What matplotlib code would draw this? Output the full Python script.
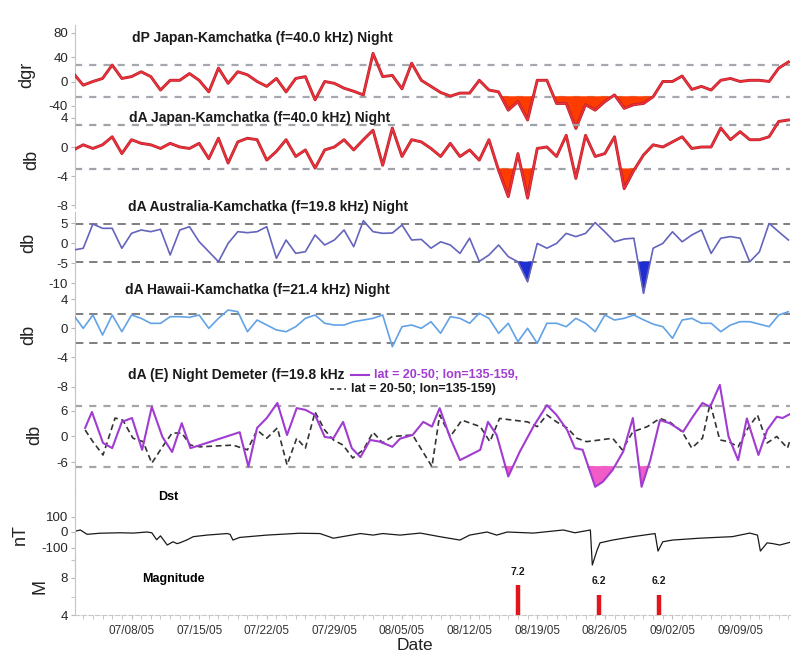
"""VLF phase/amplitude anomalies, Demeter, Dst and earthquakes, Jul-Sep 2005."""
import datetime as dt

import matplotlib
matplotlib.use("Agg")
import matplotlib.dates as mdates
import matplotlib.patheffects as pe
import matplotlib.pyplot as plt
import numpy as np
from matplotlib.lines import Line2D
from matplotlib.ticker import FixedLocator, MultipleLocator

plt.rcParams["font.family"] = ["Liberation Sans", "DejaVu Sans"]
plt.rcParams["axes.unicode_minus"] = False

START = dt.datetime(2005, 7, 1)
DAYS = np.arange(1, 76)  # daily night values, days after 07/01/05

DP_JAPAN = [13, -6, 0, 5, 27, 5, 8, 16, 8, -14, 2, 2, 13, 2, -17, 22, -3, 16, 11, 0,
            -8, 5, -17, 5, 8, -30, 0, -3, -11, -16, -22, 46, 8, 10, -12, 30, 2, -8, -18, -24,
            -19, -19, 2, -14, -17, -47, -33, -63, 2, 2, -36, -36, -77, -38, -47, -33, -22, -44, -38, -36,
            -25, 0, 0, 9, -13, -8, -14, 2, 5, 0, 2, 2, 0, 22, 32]
DA_JAPAN = [-0.4, 0.3, -0.2, 0.3, 1.4, -0.9, 1.0, 0.5, 0.3, -0.2, 0.5, 0.0, -0.2, 0.5, -1.6,
            1.2, -2.2, 0.7, 1.2, 1.0, -1.8, -0.6, 1.0, -1.3, -0.4, -2.9, -0.4, 0.0, 1.0, -0.4,
            1.0, 2.3, -2.5, 2.6, -1.3, 1.0, 0.7, -0.2, -1.3, 0.5, -1.3, -0.4, -1.8, 1.0, -3.2,
            -6.8, -0.9, -7.0, -0.2, 0.0, -1.3, 1.6, -4.3, 1.6, -1.3, -0.9, 1.4, -5.7, -3.2, -1.1,
            0.3, 0.0, 0.7, 1.4, -0.2, 0.0, 0.0, 2.6, 1.0, 2.1, 1.0, 1.0, 1.4, 3.5, 3.7]
DA_AUSTRALIA = [-1.75, -1.33, 4.75, 3.67, 3.67, -1.33, 2.42, 3.25, 2.83, 3.42, -3.0, 3.25, 4.08,
                0.33, -2.17, -4.67, -0.08, 2.83, 2.58, 2.83, 4.08, -3.83, 0.75, -2.58, -2.17, 2.0,
                -0.5, 0.75, 3.25, -0.92, 5.58, 2.83, 2.42, 2.5, 4.5, 0.75, 0.9, -1.3, 0.3, -0.5,
                -2.6, 1.2, -4.6, -3.0, -0.5, -3.4, -4.7, -9.7, -0.1, -1.3, -0.1, 2.4, 1.6, 2.4,
                5.1, 2.8, 0.3, 1.0, 1.2, -12.6, -1.3, -0.1, 2.8, 0.3, 2.0, 3.25, -2.6, 1.2, 1.6,
                1.2, -4.7, -2.2, 4.9, 2.8, 0.75]
DA_HAWAII = [1.86, 0.02, 1.86, -0.9, 1.86, -0.44, 1.86, 1.4, 0.71, 0.71, 1.63, 1.63, 1.54, 1.86,
             0.02, 1.4, 2.55, 2.32, -0.44, 1.17, 0.48, -0.2, -0.44, 0.25, 1.4, 1.86, 0.71, 0.48,
             0.48, 0.94, 1.17, 1.4, 1.86, -2.51, 0.25, 0.48, 0.03, 0.94, -0.66, 1.63, 1.4, 0.72,
             2.1, 1.4, -0.66, 0.72, -1.82, 0.03, -2.04, 0.72, 0.72, 0.25, 1.4, 0.72, -0.44, 1.86,
             1.17, 1.4, 1.86, 1.2, 0.6, 0.25, -1.35, 1.17, 1.4, 0.72, 0.72, -0.44, 0.48, 0.94,
             0.94, 0.6, 0.25, 1.86, 2.32]

# Demeter passes (irregular sampling)
DEM_DAYS = [2.2, 2.9, 4.05, 5.0, 6.0, 7.05, 8.1, 9.1, 10.2, 11.2, 12.2, 13.1, 14.1, 18.2, 19.1,
            20.0, 21.0, 22.1, 23.1, 24.1, 25.0, 26.0, 27.0, 27.9, 28.9, 29.8, 30.7, 31.7, 32.7,
            34.0, 34.8, 36.1, 37.2, 38.1, 38.9, 40.0, 41.0, 43.1, 43.9, 44.8, 46.0, 47.2, 48.6,
            50.0, 51.0, 52.1, 52.9, 53.7, 55.0, 55.8, 56.8, 57.9, 58.9, 59.8, 60.7, 61.7, 62.7,
            64.1, 65.1, 66.1, 66.9, 67.9, 68.8, 69.8, 70.7, 71.9, 72.8, 73.8, 74.4, 75.4]
DEM_ZONE1 = [2.0, 5.7, -1.5, -2.7, 3.4, 4.3, -3.1, 6.9, -0.1, -3.6, 3.1, -2.7, -2.0, 1.0, -7.0,
             2.0, 4.3, 7.8, 0.35, 6.6, 6.2, 5.0, -0.1, -0.4, 3.4, -2.7, -4.8, -0.8, -1.2,
             -2.4, -0.5, 0.35, 3.4, 2.3, 6.6, -0.4, -5.5, -3.1, 3.4, 0.35, -9.3, -3.5, 2.3,
             7.3, 5.0, 1.5, -2.7, -3.1, -11.7, -10.5, -7.8, -3.5, 4.3, -11.7, -5.5, 3.8, 3.1,
             1.1, 4.6, 7.8, 6.9, 12.0, 0.0, -5.5, 4.2, -4.3, 1.5, 4.6, 4.3, 5.5]
DEM2_DAYS = [2.2, 3.0, 4.05, 5.3, 6.1, 7.15, 8.2, 9.1, 10.2, 11.2, 12.2, 13.1, 14.1, 17.5, 19.0,
             20.0, 21.0, 22.1, 23.1, 24.1, 25.0, 26.0, 27.0, 27.9, 28.9, 29.9, 31.0, 32.0, 33.0,
             34.0, 36.1, 38.1, 38.9, 40.0, 41.2, 43.1, 44.1, 45.1, 46.5, 48.0, 49.0, 50.0, 51.0,
             52.1, 53.1, 54.1, 55.5, 56.8, 57.8, 58.9, 60.4, 61.7, 62.7, 64.0, 65.0, 66.1, 66.9,
             67.9, 68.8, 69.8, 70.8, 71.8, 72.8, 73.8, 74.9, 75.4]
DEM_ZONE2 = [1.5, -1.2, -4.3, 4.3, 3.8, -0.4, -1.2, -6.2, -2.4, 0.8, 0.8, -2.0, -2.4, -2.0, -3.1,
             1.5, -0.4, 2.0, -6.6, -0.4, -2.7, 5.7, 1.5, -0.8, -2.0, -5.0, -3.1, 1.0, -1.5,
             0.0, 0.35, -7.0, 5.0, 0.0, 3.8, 2.3, -1.2, 4.2, 3.8, 3.4, 2.3, 5.0, 3.4,
             2.0, -0.4, -1.2, -0.8, -0.4, -3.1, 1.1, 2.3, 4.2, 3.4, 1.1, -2.7, -0.4, 7.7,
             -0.8, -1.2, -2.4, 1.9, 5.0, -1.5, 0.0, -2.7, 0.7]

DST_DAYS = [1.15, 1.7, 2.4, 3.7, 5.8, 7.2, 8.6, 9.1, 9.6, 10.0, 10.7, 11.3, 11.7, 12.0, 12.7, 13.4,
            14.8, 16.9, 17.2, 17.5, 18.2, 21.0, 24.4, 26.5, 27.9, 29.3, 30.7, 32.0, 33.0, 34.8,
            36.9, 38.9, 41.0, 42.0, 43.8, 44.8, 45.9, 48.6, 51.7, 52.9, 54.5, 54.7, 55.2, 55.5,
            56.8, 58.9, 61.2, 61.5, 62.0, 63.0, 65.8, 69.2, 71.0, 71.8, 72.1, 72.8, 73.4, 74.1, 75.4]
DST = [5, 13, -15, -8, -5, -7, 0, -5, -50, -25, -84, -63, -75, -70, -52, -30,
       -20, -10, -15, -52, -35, -20, -8, -10, -40, -25, -10, -20, -10, -20,
       -7, -30, -52, -20, 0, -20, 0, -7, 13, -5, 13, -213, -116, -70,
       -52, -30, -10, -123, -63, -52, -40, -30, -7, -20, -123, -70, -75, -84, -63]

EQ_DAYS = [47.0, 55.4, 61.6]
EQ_MAG = [7.2, 6.2, 6.2]

# dashed reference levels and highlighted anomaly windows
LEVELS = {"dp": (27, -25), "dajp": (3, -3), "daau": (4.75, -4.75), "dahw": (2, -2), "dem": (7, -7)}
WINDOWS = {"dp": [(44, 62)], "dajp": [(44, 49.5), (57, 59.5)],
           "daau": [(46, 49.5), (59, 61)], "dem": [(45, 47), (54, 57.6), (59, 61)]}

W, H = 792, 659
L, R = 75, 790
T0, PXDAY = 63.9, 9.66          # pixel of day 0 and pixels per day
BASE = mdates.date2num(START)


def day_num(days):
    return BASE + np.asarray(days, dtype=float)


fig = plt.figure(figsize=(W / 100, H / 100), dpi=100)
fig.patch.set_facecolor("white")


def panel(top, bot, ref_val, ref_px, ppu, ticks):
    ax = fig.add_axes([L / W, 1 - bot / H, (R - L) / W, (bot - top) / H])
    ax.set_ylim(ref_val - (bot - ref_px) / ppu, ref_val + (ref_px - top) / ppu)
    ax.set_xlim(BASE + (L - T0) / PXDAY, BASE + (R - T0) / PXDAY)
    ax.patch.set_visible(False)
    for s in ("top", "right", "bottom"):
        ax.spines[s].set_visible(False)
    ax.spines["left"].set_color("#c4c4c4")
    ax.set_yticks(ticks)
    ax.tick_params(axis="y", length=3, color="#b8b8b8", labelsize=9.5,
                   labelcolor="#262626", pad=2)
    ax.tick_params(axis="x", bottom=False, labelbottom=False)
    return ax


def refs(ax, key, color, lw, dashes):
    for lev in LEVELS[key]:
        ax.axhline(lev, color=color, lw=lw, dashes=dashes, zorder=1)


def shade(ax, days, vals, key, color):
    x = np.asarray(days, dtype=float)
    y = np.asarray(vals, dtype=float)
    lo = LEVELS[key][1]
    inwin = np.zeros_like(x, dtype=bool)
    for a, b in WINDOWS[key]:
        inwin |= (x >= a) & (x <= b)
    ax.fill_between(day_num(x), y, lo, where=(y < lo) & inwin, interpolate=True,
                    color=color, lw=0.6, zorder=2)


red_fx = [pe.Stroke(linewidth=2.1, foreground="#b0222a"), pe.Normal()]

# dP Japan
ax1 = panel(25, 132, 0, 81.5, 0.61, [-40, 0, 40, 80])
refs(ax1, "dp", "#a4a9b0", 1.6, (3.2, 3.2))
shade(ax1, DAYS, DP_JAPAN, "dp", "#ff3c00")
ax1.plot(day_num(DAYS), DP_JAPAN, color="#f0303a", lw=1.2, path_effects=red_fx, zorder=3)

# dA Japan
ax2 = panel(110, 208, 0, 147, 7.3, [-8, -4, 0, 4])
refs(ax2, "dajp", "#9ea3a9", 1.6, (3.2, 3.2))
shade(ax2, DAYS, DA_JAPAN, "dajp", "#ff3c00")
ax2.plot(day_num(DAYS), DA_JAPAN, color="#f0303a", lw=1.2, path_effects=red_fx, zorder=3)

# dA Australia
ax3 = panel(212, 298, 0, 243, 4.0, [-10, -5, 0, 5])
refs(ax3, "daau", "#6a6a6a", 1.2, (5, 3.5))
shade(ax3, DAYS, DA_AUSTRALIA, "daau", "#1f2ed0")
ax3.plot(day_num(DAYS), DA_AUSTRALIA, color="#6464bd", lw=1.2, zorder=3)

# dA Hawaii
ax4 = panel(296, 390, 0, 328.5, 7.25, [-8, -4, 0, 4])
refs(ax4, "dahw", "#6a6a6a", 1.2, (5, 3.5))
ax4.plot(day_num(DAYS), DA_HAWAII, color="#62a2e6", lw=1.2, zorder=3)

# Demeter
ax5 = panel(382, 492, 0, 436.5, 4.3, [-6, 0, 6])
refs(ax5, "dem", "#a5a5a5", 1.6, (3.2, 3.2))
shade(ax5, DEM_DAYS, DEM_ZONE1, "dem", "#f25cc6")
ax5.plot(day_num(DEM2_DAYS), DEM_ZONE2, color="#333333", lw=1.2, dashes=(3.5, 2.2), zorder=3)
ax5.plot(day_num(DEM_DAYS), DEM_ZONE1, color="#a03cd0", lw=1.5, zorder=4)

# Dst
ax6 = panel(490, 572, 0, 532, 0.155, [-100, 0, 100])
ax6.plot(day_num(DST_DAYS), DST, color="#1a1a1a", lw=0.9)

# Magnitude
ax7 = panel(556, 615, 4, 615, 9.25, [4, 8])
ax7.yaxis.set_minor_locator(FixedLocator([6, 10]))
ax7.tick_params(axis="y", which="minor", length=3, color="#b8b8b8")
ax7.vlines(day_num(EQ_DAYS), 4, EQ_MAG, colors="#e2141c", lw=3.2, zorder=3)
for d, m in zip(EQ_DAYS, EQ_MAG):
    ax7.text(day_num(d), m + 1.5, f"{m:.1f}", ha="center", va="center",
             fontsize=7.5, fontweight="bold", color="#1a1a1a")
ax7.spines["bottom"].set_visible(True)
ax7.spines["bottom"].set_color("#c8c8c8")
ax7.spines["bottom"].set_linestyle((0, (4, 2)))
ax7.set_xticks(day_num(np.arange(7, 71, 7)))
ax7.xaxis.set_major_formatter(mdates.DateFormatter("%m/%d/%y"))
ax7.xaxis.set_minor_locator(MultipleLocator(1))
ax7.tick_params(axis="x", which="both", bottom=True, labelbottom=True, length=3,
                color="#bdbdbd", labelsize=8.5, labelcolor="#333333", pad=4)


def ftext(x, y, s, **kw):
    fig.text(x / W, 1 - y / H, s, **kw)


title_kw = dict(ha="left", va="center", fontsize=10, fontweight="bold", color="#1a1a1a")
leg_kw = {**title_kw, "fontsize": 9}
ftext(132, 38, "dP Japan-Kamchatka (f=40.0 kHz) Night", **title_kw)
ftext(129, 118, "dA Japan-Kamchatka (f=40.0 kHz) Night", **title_kw)
ftext(128, 207, "dA Australia-Kamchatka (f=19.8 kHz) Night", **title_kw)
ftext(125, 290, "dA Hawaii-Kamchatka (f=21.4 kHz) Night", **title_kw)
ftext(128, 375, "dA (E) Night Demeter (f=19.8 kHz", **title_kw)
ftext(374, 375, "lat = 20-50; lon=135-159,", **{**leg_kw, "color": "#a03cd0"})
ftext(351, 389, "lat = 20-50; lon=135-159)", **leg_kw)
fig.add_artist(Line2D([351 / W, 369 / W], [1 - 375 / H] * 2, color="#a03cd0", lw=1.5))
fig.add_artist(Line2D([330 / W, 346 / W], [1 - 389 / H] * 2, color="#333333", lw=1.2,
                      dashes=(2.5, 1.8)))
ftext(168, 497, "Dst", ha="center", va="center", fontsize=9, fontweight="bold")
ftext(142, 579, "Magnitude", ha="left", va="center", fontsize=9, fontweight="bold")

lab_kw = dict(rotation=90, ha="center", va="center", fontsize=13, color="#222222")
ftext(27, 75, "dgr", **lab_kw)
ftext(32, 160, "db", **lab_kw)
ftext(29, 243, "db", **lab_kw)
ftext(29, 335, "db", **lab_kw)
ftext(35, 435, "db", **lab_kw)
ftext(20, 535, "nT", **lab_kw)
ftext(40, 587, "M", **lab_kw)
ftext(415, 638, "Date", ha="center", va="top", fontsize=12.5, color="#222222")

fig.savefig("out.png", dpi=100)
